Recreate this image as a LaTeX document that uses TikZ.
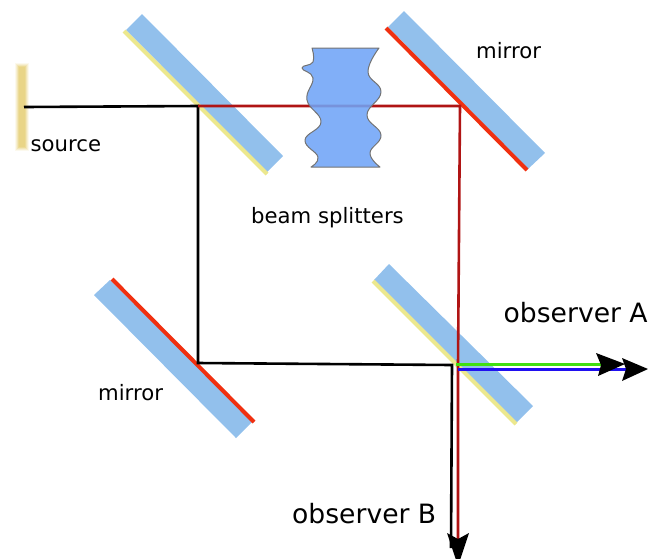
\documentclass[tikz,border=0pt]{standalone}
\usepackage{fontspec}
\setmainfont{DejaVu Sans}
\definecolor{plateblue}{RGB}{146,192,236}
\definecolor{coatyellow}{RGB}{236,232,142}
\definecolor{mirrorred}{RGB}{240,48,16}
\definecolor{beamred}{RGB}{176,20,20}
\definecolor{beamgreen}{RGB}{64,224,16}
\definecolor{beamblue}{RGB}{32,16,240}
\definecolor{sourcecol}{RGB}{232,212,132}
\definecolor{sampleblue}{RGB}{112,164,247}
\tikzset{
  plate/.style={fill=plateblue,draw=none},
  coat/.style={draw=coatyellow,line width=4pt},
  silver/.style={draw=mirrorred,line width=4pt},
  beam/.style={line width=2.6pt,line join=miter},
  tiphead/.style={fill=black,draw=none},
  lab/.style={inner sep=0pt,anchor=base west,font=\fontsize{21.2pt}{24pt}\selectfont},
  bigLab/.style={inner sep=0pt,anchor=base west,font=\fontsize{26.6pt}{30pt}\selectfont},
}
\begin{document}
\begin{tikzpicture}[x=1pt,y=-1pt]
\useasboundingbox (0,0) rectangle (648,558);
% source (soft edges)
\foreach \d/\o in {2/.15,1/.25,0/.35,-1/.6,-2/.85}{
  \fill[sourcecol,opacity=\o] (17-\d,65-\d) rectangle (27+\d,149+\d);
}
% plates
\fill[plate] (142,14) -- (283,156) -- (267,172) -- (126,30) -- cycle;
\draw[coat] (124,31) -- (267,174);
\fill[plate] (404,11) -- (545,153) -- (528,169) -- (388,27) -- cycle;
\draw[silver] (386,28) -- (527,170);
\fill[plate] (389,264) -- (533,406) -- (516,423) -- (374,280) -- cycle;
\draw[coat] (373,281) -- (516,424);
\fill[plate] (110,280) -- (253,421) -- (236,438) -- (94,295) -- cycle;
\draw[silver] (112,279) -- (254,422);
% named path points
\coordinate (src) at (24,107);
\coordinate (bs1) at (198,106);
\coordinate (mt) at (460,106);
\coordinate (ml) at (198,363);
\coordinate (bs2k) at (452,365);
\coordinate (bs2r) at (458,365);
\coordinate (outBk) at (451,548);
\coordinate (outBr) at (458,545);
\coordinate (gstart) at (456,364.5);
\coordinate (gend) at (602,364.5);
\coordinate (bstart) at (458,369.5);
\coordinate (bend) at (628,369.5);
% beams
\draw[beam,black] (src) -- (bs1) -- (ml) -- (bs2k) -- (outBk);
\draw[beam,beamred] (bs1) -- (mt) -- (bs2r) -- (outBr);
\draw[beam,beamgreen,line width=3pt] (gstart) -- (gend);
\draw[beam,beamblue] (bstart) -- (bend);
% wavy sample
\path[fill=sampleblue,fill opacity=.88,draw=black!55,line width=1pt,line join=round]
  (312,48) -- (379,48)
  -- plot[smooth,tension=.75] coordinates {(379,48) (368,72) (381,92) (367,115) (381,135) (370,153) (380,167)}
  -- (311,167)
  -- plot[smooth,tension=.75] coordinates {(311,167) (318,157) (305,140) (321,122) (307,100) (313,78) (302,68) (313,62) (312,48)}
  -- cycle;
% arrowheads
\fill[tiphead] (596,353) -- (625,364) -- (598,376) -- (601,365) -- cycle;
\fill[tiphead] (622,358) -- (648,369) -- (622,381) -- (626,369) -- cycle;
\fill[tiphead] (447,533) -- (458,539) -- (469,533) -- (458,566) -- cycle;
% labels
\node[lab] (lsource) at (30.5,151) {source};
\node[lab] (lmirrort) at (476,58) {mirror};
\node[lab] (lbeam) at (251,223) {beam splitters};
\node[lab] (lmirrorl) at (98,400) {mirror};
\node[bigLab] (lobsa) at (503.5,322.5) {observer A};
\node[bigLab] (lobsb) at (292,523) {observer B};
\end{tikzpicture}
\end{document}
